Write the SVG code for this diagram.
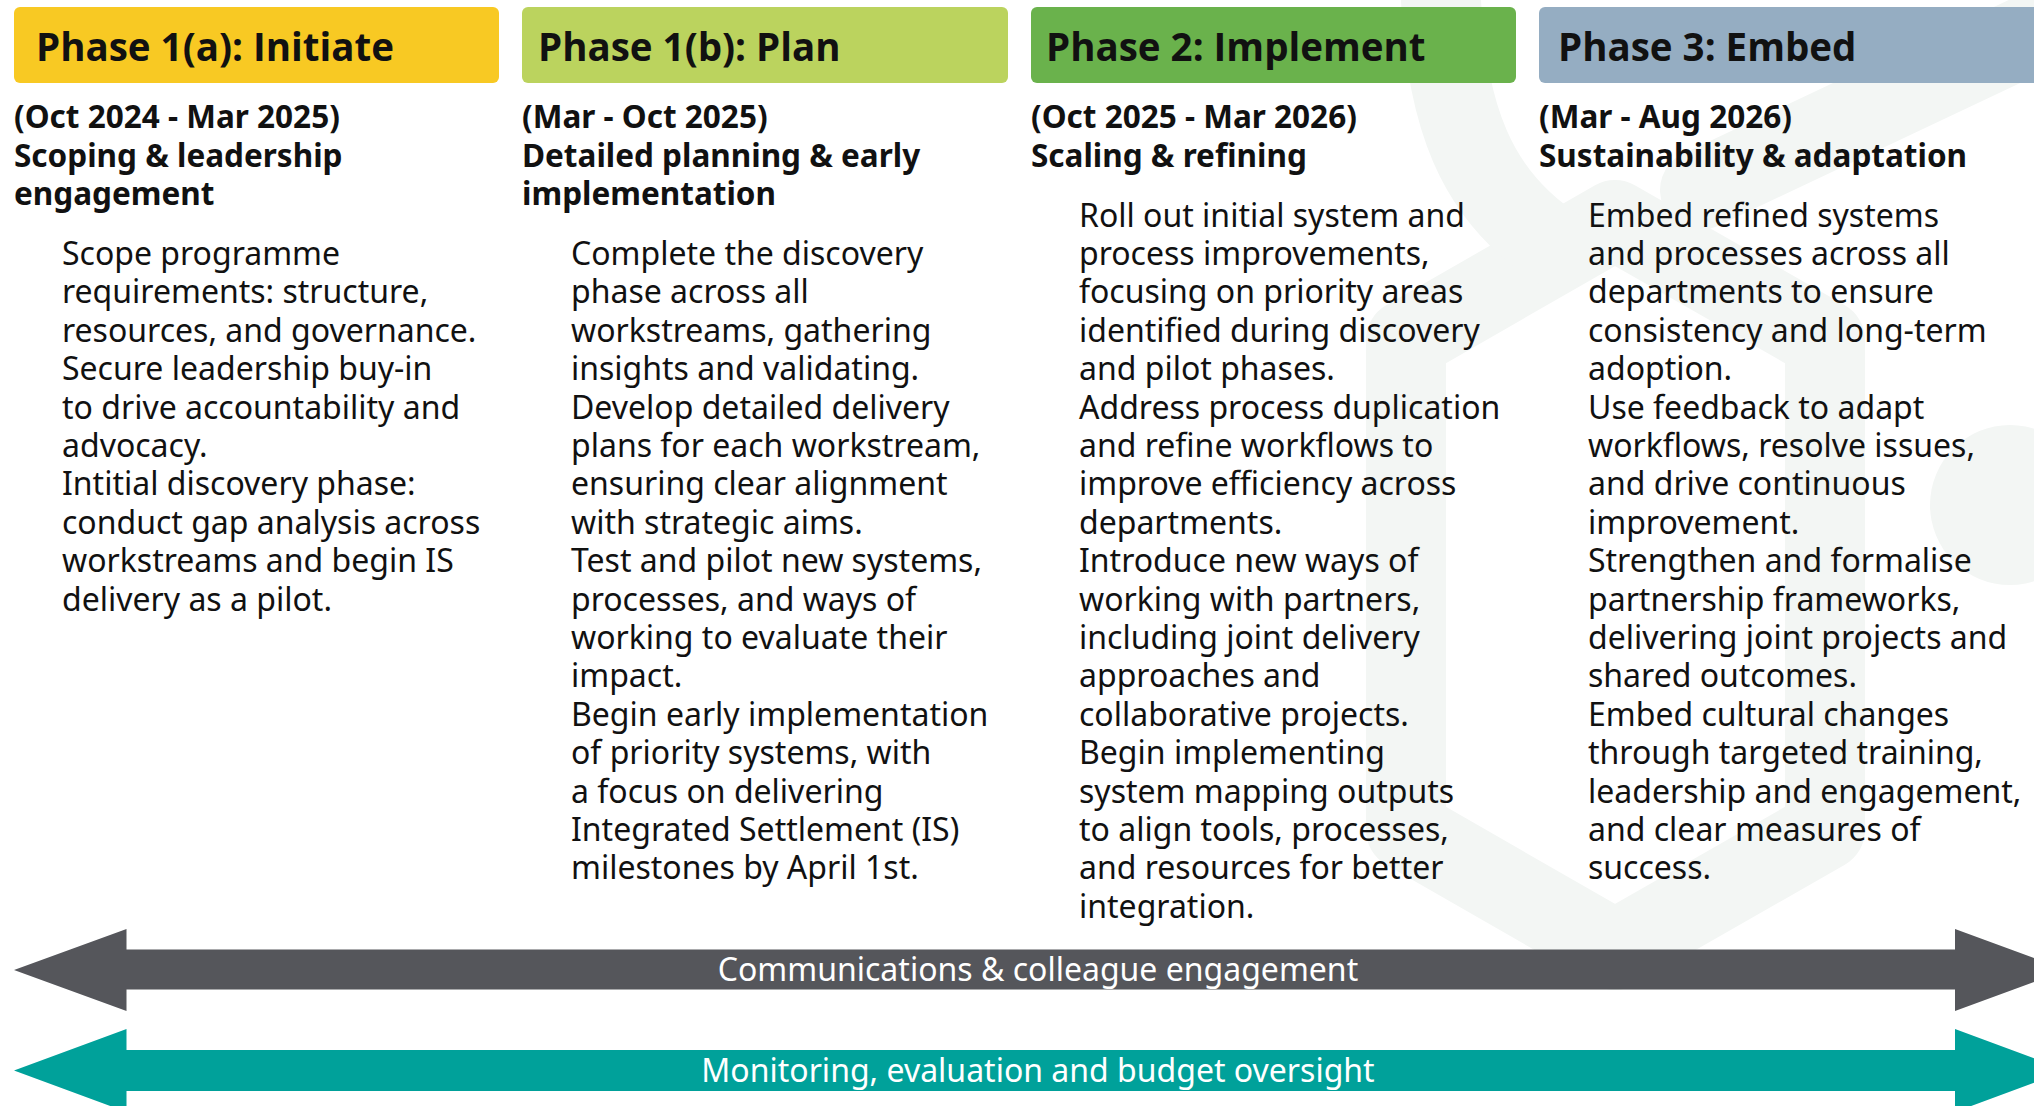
<svg xmlns="http://www.w3.org/2000/svg" width="2034" height="1106" viewBox="0 0 2034 1106">
  <defs>
    <style>
      .wm { fill: none; stroke: #f3f6f4; stroke-width: 80; stroke-linejoin: round; stroke-linecap: round; }
      .hdr-box { stroke: none; }
      .hdr { font-family: "Open Sans", "Noto Sans", sans-serif; font-weight: 700; font-size: 38.5px; fill: #111111; }
      .sub { font-family: "Noto Sans", "Open Sans", sans-serif; font-weight: 700; font-size: 31.5px; fill: #111111; }
      .body { font-family: "Noto Sans", "Open Sans", sans-serif; font-weight: 400; font-size: 32px; fill: #111111; }
      .band-label { font-family: "Noto Sans", "Open Sans", sans-serif; font-weight: 400; font-size: 32px; fill: #ffffff; text-anchor: middle; }
    </style>
  </defs>

  <rect width="2034" height="1106" fill="#ffffff"/>

  <!-- faint background emblem -->
  <g id="watermark">
    <path class="wm" d="M1406,340 L1406,830 L1615,950 L1825,830 L1825,340 L1615,220 Z"/>
    <path class="wm" d="M1440,-40 C1440,120 1480,200 1560,250"/>
    <path class="wm" d="M1700,190 L2060,20"/>
    <circle cx="2010" cy="505" r="80" fill="#f3f6f4"/>
  </g>

  <!-- Phase 1(a) -->
  <g id="phase-1a">
    <rect class="hdr-box" x="14" y="7" width="485" height="76" rx="6" fill="#f8c923"/>
    <text class="hdr" x="36" y="61">Phase 1(a): Initiate</text>
    <text class="sub" x="14" y="128">
      <tspan x="14" y="128">(Oct 2024 - Mar 2025)</tspan>
      <tspan x="14" dy="38.5">Scoping &amp; leadership</tspan>
      <tspan x="14" dy="38.5">engagement</tspan>
    </text>
    <text class="body" x="62" y="265">
      <tspan x="62" y="265">Scope programme</tspan>
      <tspan x="62" dy="38.4">requirements: structure,</tspan>
      <tspan x="62" dy="38.4">resources, and governance.</tspan>
      <tspan x="62" dy="38.4">Secure leadership buy-in</tspan>
      <tspan x="62" dy="38.4">to drive accountability and</tspan>
      <tspan x="62" dy="38.4">advocacy.</tspan>
      <tspan x="62" dy="38.4">Intitial discovery phase:</tspan>
      <tspan x="62" dy="38.4">conduct gap analysis across</tspan>
      <tspan x="62" dy="38.4">workstreams and begin IS</tspan>
      <tspan x="62" dy="38.4">delivery as a pilot.</tspan>
    </text>
  </g>

  <!-- Phase 1(b) -->
  <g id="phase-1b">
    <rect class="hdr-box" x="522" y="7" width="486" height="76" rx="6" fill="#bbd35e"/>
    <text class="hdr" x="538" y="61">Phase 1(b): Plan</text>
    <text class="sub" x="522" y="128">
      <tspan x="522" y="128">(Mar - Oct 2025)</tspan>
      <tspan x="522" dy="38.5">Detailed planning &amp; early</tspan>
      <tspan x="522" dy="38.5">implementation</tspan>
    </text>
    <text class="body" x="571" y="265">
      <tspan x="571" y="265">Complete the discovery</tspan>
      <tspan x="571" dy="38.4">phase across all</tspan>
      <tspan x="571" dy="38.4">workstreams, gathering</tspan>
      <tspan x="571" dy="38.4">insights and validating.</tspan>
      <tspan x="571" dy="38.4">Develop detailed delivery</tspan>
      <tspan x="571" dy="38.4">plans for each workstream,</tspan>
      <tspan x="571" dy="38.4">ensuring clear alignment</tspan>
      <tspan x="571" dy="38.4">with strategic aims.</tspan>
      <tspan x="571" dy="38.4">Test and pilot new systems,</tspan>
      <tspan x="571" dy="38.4">processes, and ways of</tspan>
      <tspan x="571" dy="38.4">working to evaluate their</tspan>
      <tspan x="571" dy="38.4">impact.</tspan>
      <tspan x="571" dy="38.4">Begin early implementation</tspan>
      <tspan x="571" dy="38.4">of priority systems, with</tspan>
      <tspan x="571" dy="38.4">a focus on delivering</tspan>
      <tspan x="571" dy="38.4">Integrated Settlement (IS)</tspan>
      <tspan x="571" dy="38.4">milestones by April 1st.</tspan>
    </text>
  </g>

  <!-- Phase 2 -->
  <g id="phase-2">
    <rect class="hdr-box" x="1031" y="7" width="485" height="76" rx="6" fill="#6ab24c"/>
    <text class="hdr" x="1046" y="61">Phase 2: Implement</text>
    <text class="sub" x="1031" y="128">
      <tspan x="1031" y="128">(Oct 2025 - Mar 2026)</tspan>
      <tspan x="1031" dy="38.5">Scaling &amp; refining</tspan>
    </text>
    <text class="body" x="1079" y="226.5">
      <tspan x="1079" y="226.5">Roll out initial system and</tspan>
      <tspan x="1079" dy="38.4">process improvements,</tspan>
      <tspan x="1079" dy="38.4">focusing on priority areas</tspan>
      <tspan x="1079" dy="38.4">identified during discovery</tspan>
      <tspan x="1079" dy="38.4">and pilot phases.</tspan>
      <tspan x="1079" dy="38.4">Address process duplication</tspan>
      <tspan x="1079" dy="38.4">and refine workflows to</tspan>
      <tspan x="1079" dy="38.4">improve efficiency across</tspan>
      <tspan x="1079" dy="38.4">departments.</tspan>
      <tspan x="1079" dy="38.4">Introduce new ways of</tspan>
      <tspan x="1079" dy="38.4">working with partners,</tspan>
      <tspan x="1079" dy="38.4">including joint delivery</tspan>
      <tspan x="1079" dy="38.4">approaches and</tspan>
      <tspan x="1079" dy="38.4">collaborative projects.</tspan>
      <tspan x="1079" dy="38.4">Begin implementing</tspan>
      <tspan x="1079" dy="38.4">system mapping outputs</tspan>
      <tspan x="1079" dy="38.4">to align tools, processes,</tspan>
      <tspan x="1079" dy="38.4">and resources for better</tspan>
      <tspan x="1079" dy="38.4">integration.</tspan>
    </text>
  </g>

  <!-- Phase 3 -->
  <g id="phase-3">
    <rect class="hdr-box" x="1539" y="7" width="520" height="76" rx="6" fill="#95adc2"/>
    <text class="hdr" x="1558" y="61">Phase 3: Embed</text>
    <text class="sub" x="1539" y="128">
      <tspan x="1539" y="128">(Mar - Aug 2026)</tspan>
      <tspan x="1539" dy="38.5">Sustainability &amp; adaptation</tspan>
    </text>
    <text class="body" x="1588" y="226.5">
      <tspan x="1588" y="226.5">Embed refined systems</tspan>
      <tspan x="1588" dy="38.4">and processes across all</tspan>
      <tspan x="1588" dy="38.4">departments to ensure</tspan>
      <tspan x="1588" dy="38.4">consistency and long-term</tspan>
      <tspan x="1588" dy="38.4">adoption.</tspan>
      <tspan x="1588" dy="38.4">Use feedback to adapt</tspan>
      <tspan x="1588" dy="38.4">workflows, resolve issues,</tspan>
      <tspan x="1588" dy="38.4">and drive continuous</tspan>
      <tspan x="1588" dy="38.4">improvement.</tspan>
      <tspan x="1588" dy="38.4">Strengthen and formalise</tspan>
      <tspan x="1588" dy="38.4">partnership frameworks,</tspan>
      <tspan x="1588" dy="38.4">delivering joint projects and</tspan>
      <tspan x="1588" dy="38.4">shared outcomes.</tspan>
      <tspan x="1588" dy="38.4">Embed cultural changes</tspan>
      <tspan x="1588" dy="38.4">through targeted training,</tspan>
      <tspan x="1588" dy="38.4">leadership and engagement,</tspan>
      <tspan x="1588" dy="38.4">and clear measures of</tspan>
      <tspan x="1588" dy="38.4">success.</tspan>
    </text>
  </g>

  <!-- double-headed bands running across all phases -->
  <g id="connectors">
    <g id="band-comms">
      <path d="M14,970 L126.5,929 L126.5,949.5 L1955,949.5 L1955,929 L2067,970 L1955,1011 L1955,989.5 L126.5,989.5 L126.5,1011 Z" fill="#55565b"/>
      <text class="band-label" x="1038" y="981">Communications &amp; colleague engagement</text>
    </g>
    <g id="band-monitoring">
      <path d="M14,1070.5 L126.5,1029 L126.5,1050 L1955,1050 L1955,1029 L2067,1070.5 L1955,1112 L1955,1091 L126.5,1091 L126.5,1112 Z" fill="#00a19a"/>
      <text class="band-label" x="1038" y="1082">Monitoring, evaluation and budget oversight</text>
    </g>
  </g>
</svg>
